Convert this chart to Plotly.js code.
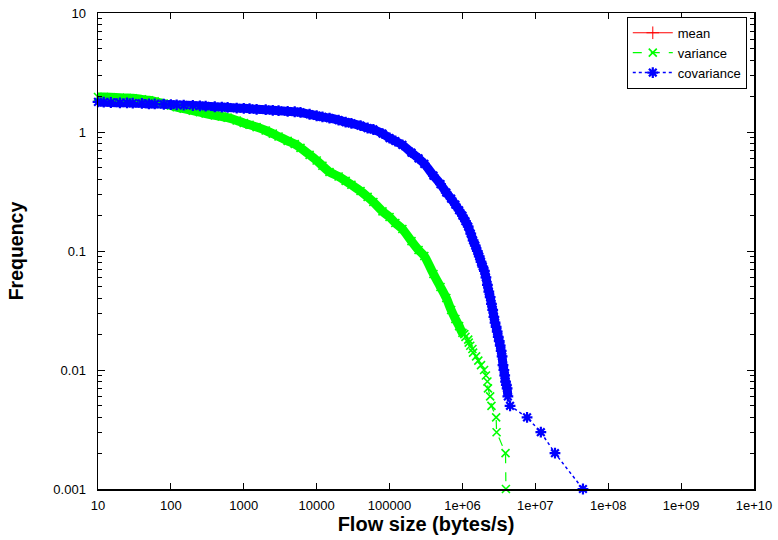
<!DOCTYPE html>
<html>
<head>
<meta charset="utf-8">
<script src="https://cdn.plot.ly/plotly-3.0.1.min.js"></script>
<style>html,body{margin:0;padding:0;background:#fff;}#chart{width:778px;height:540px;}</style>
</head>
<body>
<div id="chart"></div>
<script>
// Series names
const seriesNames = ["mean", "variance", "covariance"];

// mean: no visible points in the reference (legend entry only)
const meanX = [null];
const meanY = [null];

// variance (green)
const varianceX = [10, 12, 15, 20, 25, 30, 40, 50, 60, 80, 100, 120, 150, 200, 250, 300, 400, 500, 600, 800,
  1000, 1200, 1500, 2000, 2500, 3000, 4000, 5000, 6000, 8000, 10000, 12000, 15000, 20000, 25000, 30000, 40000,
  50000, 60000, 80000, 100000, 120000, 150000, 200000, 250000, 300000, 400000, 500000, 600000, 700000, 800000,
  900000, 1000000, 1060000, 1100000, 1200000, 1220000, 1280000, 1370000, 1400000, 1540000, 1650000, 1800000,
  1980000, 2100000, 2200000, 2240000, 2400000, 2500000, 2900000, 2940000, 3900000, 3950000];
const varianceY = [1.97, 1.97, 1.96, 1.94, 1.93, 1.92, 1.88, 1.85, 1.81, 1.73, 1.67, 1.62, 1.57, 1.51, 1.47, 1.43,
  1.38, 1.35, 1.32, 1.25, 1.19, 1.15, 1.10, 1.03, 0.968, 0.917, 0.843, 0.793, 0.736, 0.643, 0.576, 0.520, 0.461,
  0.423, 0.388, 0.360, 0.319, 0.285, 0.258, 0.215, 0.193, 0.172, 0.153, 0.121, 0.102, 0.0908, 0.0641, 0.0498,
  0.0403, 0.0319, 0.0268, 0.0234, 0.0205, 0.020, 0.019, 0.018, 0.017, 0.016, 0.015, 0.014, 0.013, 0.012, 0.011,
  0.010, 0.009, 0.008, 0.007, 0.006, 0.005, 0.004, 0.003, 0.002, 0.001];
// number of leading points that form the dense (solid-looking) band
const varianceDenseCount = 54;

// covariance (blue)
const covarianceX = [10, 12, 15, 20, 25, 30, 40, 50, 60, 80, 100, 120, 150, 200, 250, 300, 400, 500, 600, 800,
  1000, 1200, 1500, 2000, 2500, 3000, 4000, 5000, 6000, 8000, 10000, 12000, 15000, 20000, 25000, 30000, 40000,
  50000, 60000, 80000, 100000, 120000, 150000, 200000, 250000, 300000, 400000, 500000, 600000, 700000, 800000,
  900000, 1000000, 1100000, 1200000, 1300000, 1400000, 1500000, 1600000, 1700000, 1800000, 1900000, 2000000,
  2100000, 2200000, 2300000, 2400000, 2500000, 2600000, 2700000, 2800000, 2900000, 3000000, 3100000, 3200000,
  3300000, 3400000, 3500000, 3600000, 3700000, 3800000, 3900000, 4000000, 4100000, 4200000,
  4500000, 7700000, 11900000, 18600000, 45000000];
const covarianceY = [1.79, 1.78, 1.77, 1.76, 1.76, 1.75, 1.74, 1.72, 1.72, 1.71, 1.70, 1.69, 1.68, 1.67, 1.66, 1.65,
  1.63, 1.62, 1.61, 1.59, 1.58, 1.57, 1.55, 1.54, 1.52, 1.51, 1.49, 1.48, 1.46, 1.41, 1.37, 1.34, 1.31, 1.26,
  1.21, 1.18, 1.13, 1.08, 1.05, 0.97, 0.89, 0.84, 0.78, 0.67, 0.60, 0.54, 0.43, 0.365, 0.31, 0.275, 0.245,
  0.22, 0.198, 0.178, 0.16, 0.14, 0.123, 0.111, 0.100, 0.090, 0.081, 0.074, 0.068, 0.060, 0.052, 0.0455,
  0.041, 0.036, 0.032, 0.028, 0.025, 0.023, 0.021, 0.019, 0.0175, 0.016, 0.0145, 0.013, 0.011, 0.010, 0.009,
  0.008, 0.0075, 0.007, 0.006,
  0.005, 0.004, 0.003, 0.002, 0.001];
const covarianceDenseCount = 85;

// Axis ticks
const xTickVals = [10, 100, 1000, 10000, 100000, 1e6, 1e7, 1e8, 1e9, 1e10];
const xTickText = ["10", "100", "1000", "10000", "100000", "1e+06", "1e+07", "1e+08", "1e+09", "1e+10"];
const yTickVals = [0.001, 0.01, 0.1, 1, 10];
const yTickText = ["0.001", "0.01", "0.1", "1", "10"];

const FONT = "Liberation Sans, Arial, Helvetica, sans-serif";
const RED = "#ff0000", GREEN = "#00ff00", BLUE = "#0000ff";

const traces = [
  // dense bands (many overlapping points in the original) drawn as thick strokes
  {
    x: varianceX.slice(0, varianceDenseCount), y: varianceY.slice(0, varianceDenseCount),
    type: "scatter", mode: "lines", showlegend: false, hoverinfo: "skip",
    line: {color: GREEN, width: 9, shape: "spline", smoothing: 0.6}
  },
  {
    x: covarianceX.slice(0, covarianceDenseCount), y: covarianceY.slice(0, covarianceDenseCount),
    type: "scatter", mode: "lines", showlegend: false, hoverinfo: "skip",
    line: {color: BLUE, width: 9, shape: "spline", smoothing: 0.6}
  },
  {
    x: meanX, y: meanY, name: seriesNames[0], type: "scatter", mode: "lines+markers",
    line: {color: RED, width: 1},
    marker: {symbol: "cross-thin-open", size: 9, color: RED, line: {color: RED, width: 1}}
  },
  {
    x: varianceX, y: varianceY, name: seriesNames[1], type: "scatter", mode: "lines+markers",
    cliponaxis: false,
    line: {color: GREEN, width: 1.2, dash: "dash"},
    marker: {symbol: "x-thin-open", size: 8, color: GREEN, line: {color: GREEN, width: 1.6}}
  },
  {
    x: covarianceX, y: covarianceY, name: seriesNames[2], type: "scatter", mode: "lines+markers",
    cliponaxis: false,
    line: {color: BLUE, width: 1.5, dash: "dot"},
    marker: {symbol: "asterisk-open", size: 9, color: BLUE, line: {color: BLUE, width: 2.2}}
  }
];

const layout = {
  width: 778, height: 540,
  margin: {l: 98, r: 24, t: 13, b: 51, pad: 0},
  paper_bgcolor: "#ffffff", plot_bgcolor: "#ffffff",
  font: {family: FONT, size: 13, color: "#000"},
  showlegend: true,
  legend: {
    x: 0.989, y: 0.992, xanchor: "right", yanchor: "top",
    bgcolor: "#ffffff", bordercolor: "#000", borderwidth: 1,
    font: {family: FONT, size: 13, color: "#000"},
    tracegroupgap: 0, itemwidth: 40
  },
  xaxis: {
    type: "log", range: [1, 10],
    tickvals: xTickVals, ticktext: xTickText,
    ticks: "inside", ticklen: 6, tickwidth: 1, tickcolor: "#000",
    ticklabelstandoff: 4,
    showline: true, linecolor: "#000", linewidth: 1.5, mirror: "ticks",
    showgrid: false, zeroline: false,
    tickfont: {family: FONT, size: 13, color: "#000"},
    title: {text: "<b>Flow size (bytes/s)</b>", font: {family: FONT, size: 20, color: "#000"}, standoff: 3}
  },
  yaxis: {
    type: "log", range: [-3, 1],
    tickvals: yTickVals, ticktext: yTickText,
    ticks: "inside", ticklen: 7, tickwidth: 1, tickcolor: "#000",
    ticklabelstandoff: 8,
    minor: {ticks: "inside", ticklen: 4, tickwidth: 1, tickcolor: "#000", dtick: "D1", showgrid: false},
    showline: true, linecolor: "#000", linewidth: 1.5, mirror: "ticks",
    showgrid: false, zeroline: false,
    tickfont: {family: FONT, size: 13, color: "#000"},
    title: {text: "<b>Frequency</b>", font: {family: FONT, size: 19.5, color: "#000"}, standoff: 24}
  }
};

Plotly.newPlot("chart", traces, layout, {staticPlot: true, displayModeBar: false});
</script>
</body>
</html>
